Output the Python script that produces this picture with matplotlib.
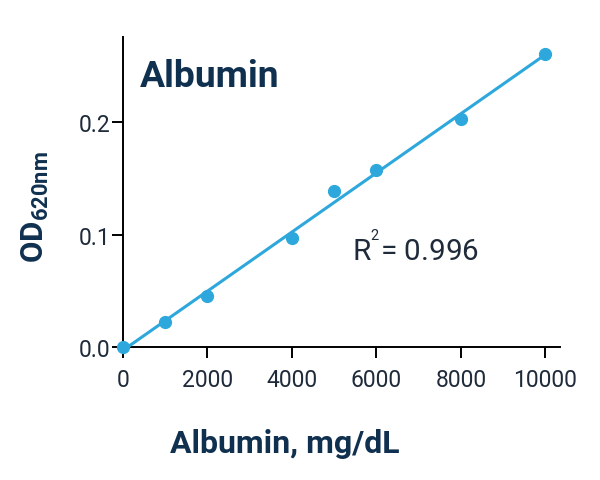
import numpy as np
import matplotlib
matplotlib.use("Agg")
import matplotlib.pyplot as plt

plt.rcParams['font.family'] = ['Roboto', 'DejaVu Sans']
plt.rcParams['mathtext.fontset'] = 'custom'
plt.rcParams['mathtext.rm'] = 'Roboto'
plt.rcParams['mathtext.bf'] = 'Roboto:bold'

conc = [0, 1000, 2000, 4000, 5000, 6000, 8000, 10000]
od = [0.0, 0.022, 0.0457, 0.097, 0.139, 0.157, 0.203, 0.260]
x_ticks = [0, 2000, 4000, 6000, 8000, 10000]
y_ticks = [0.0, 0.1, 0.2]

blue = '#2ea8dc'
navy = '#10304f'
tick_col = '#1f2b3a'

fig = plt.figure(figsize=(6, 4.81), dpi=100)
ax = fig.add_axes([0.205, 0.276, 0.728, 0.644])

slope, icpt = np.polyfit(conc, od, 1)
xx = np.array([conc[0], conc[-1]])
ax.plot(xx, slope * xx + icpt, color=blue, lw=2.2, clip_on=False, zorder=3)
ax.plot(conc, od, 'o', color=blue, ms=8.5, clip_on=False, zorder=4)

ax.set_xlim(0, 10340)
ax.set_ylim(0, 0.275)
ax.set_xticks(x_ticks)
ax.set_yticks(y_ticks)
ax.set_xticklabels([str(v) for v in x_ticks])
ax.set_yticklabels([f'{v:.1f}' for v in y_ticks])

for s in ['top', 'right']:
    ax.spines[s].set_visible(False)
for s in ['left', 'bottom']:
    ax.spines[s].set_linewidth(1.4)
ax.tick_params(axis='both', labelsize=16.5, colors='black', labelcolor=tick_col,
               width=1.4, length=8)
ax.tick_params(axis='x', pad=7)
ax.tick_params(axis='y', pad=1)

# x label placed by hand (it is left of the axes centre in the original)
ax.text(0.37, -0.338, 'Albumin, mg/dL', transform=ax.transAxes, fontsize=23,
        fontweight='bold', color=navy, ha='center', va='baseline')
ax.set_ylabel(r'$\mathbf{OD_{620nm}}$', fontsize=22.5, color=navy)
ax.yaxis.set_label_coords(-0.165, 0.456)

ax.text(0.039, 0.843, 'Albumin', transform=ax.transAxes, fontsize=26.8,
        fontweight='bold', color=navy, va='baseline', ha='left')
ax.text(0.524, 0.285, r'R$^{^2}$= 0.996', transform=ax.transAxes, fontsize=21.3,
        color=tick_col, va='baseline', ha='left')

fig.savefig('out.png', dpi=100, facecolor='white')
